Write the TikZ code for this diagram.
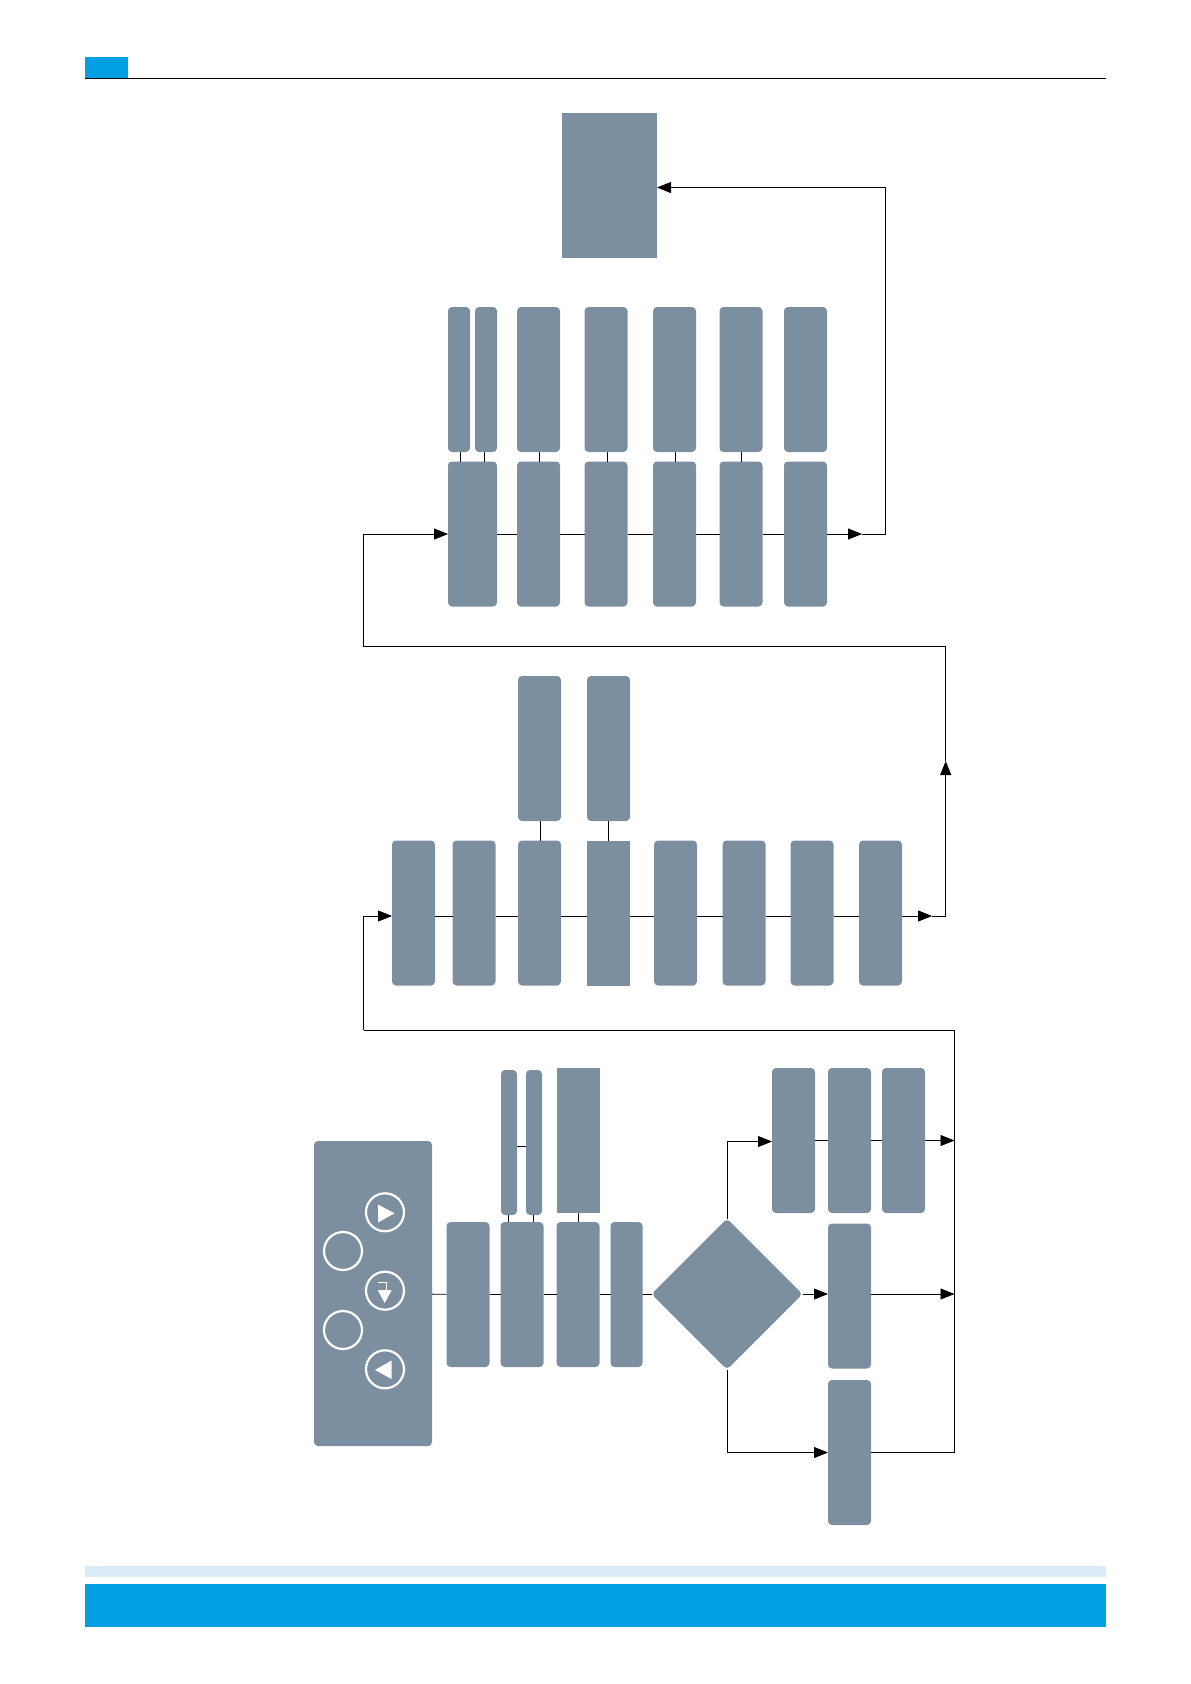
\documentclass[tikz,border=0pt]{standalone}
\usetikzlibrary{arrows.meta,shapes.geometric}
\definecolor{slate}{HTML}{7C8FA0}
\definecolor{headblue}{HTML}{009FE3}
\definecolor{stripblue}{HTML}{D9ECF8}
\tikzset{
	block/.style={fill=slate, inner sep=0pt, outer sep=0pt, rounded corners=4pt, minimum width=43pt, minimum height=145pt},
	flatblock/.style={block, rounded corners=0pt},
	slim/.style={block, minimum width=22pt},
	sliver/.style={block, minimum width=16pt},
	button/.style={circle, draw=white, line width=2.2pt, inner sep=0pt, minimum size=38pt},
	band/.style={inner sep=0pt, outer sep=0pt},
	link/.style={draw=black, line width=0.8pt}
}
\begin{document}
\begin{tikzpicture}[x=1pt, y=-1pt, >={Triangle[length=14pt, width=11pt]}]
	\useasboundingbox (0, 0) rectangle (1191, 1684);
	% page furniture
	\node[band, fill=headblue, minimum width=43pt, minimum height=21pt] (tab) at (106.5, 67.5) {};
	\coordinate (ruleend) at (1106, 78);
	\draw[link] (tab.south west) -- (tab.south west -| ruleend);
	\node[band, fill=stripblue, minimum width=1021pt, minimum height=11pt] (strip) at (595.5, 1571.5) {};
	\node[band, fill=headblue, minimum width=1021pt, minimum height=43pt] (bar) at (595.5, 1605.5) {};
	% top block
	\node[flatblock, minimum width=95pt] (finish) at (609.5, 185.5) {};
	% upper row
	\node[slim] (ua) at (459, 379.5) {};
	\node[slim] (ub) at (486, 379.5) {};
	\node[block] (uc) at (538.5, 379.5) {};
	\node[block] (ud) at (606, 379.5) {};
	\node[block] (ue) at (674.5, 379.5) {};
	\node[block] (uf) at (741, 379.5) {};
	\node[block] (ug) at (805.5, 379.5) {};
	\node[block, minimum width=49pt] (la) at (472.5, 534) {};
	\node[block] (lc) at (538.5, 534) {};
	\node[block] (ld) at (606, 534) {};
	\node[block] (le) at (674.5, 534) {};
	\node[block] (lf) at (741, 534) {};
	\node[block] (lg) at (805.5, 534) {};
	\foreach \a/\b in {la/lc, lc/ld, ld/le, le/lf, lf/lg}
		\draw[link] (\a) -- (\b);
	\foreach \a/\b/\c in {ua/la/460, ub/la/484, uc/lc/539.5, ud/ld/607, ue/le/675.5, uf/lf/741.5}
		\draw[link] (\a.south -| \c, 0) -- (\b.north -| \c, 0);
	\coordinate (uppermark) at (862, 534);
	\coordinate (upperturn) at (885.5, 534);
	\draw[link, ->] (lg) -- (uppermark);
	\draw[link] (uppermark) -- (upperturn);
	\draw[link, ->] (upperturn) |- (finish.east |- 0, 187.5);
	% middle row
	\coordinate (midline) at (0, 916);
	\node[block] (mc) at (539.5, 748.5) {};
	\node[block] (md) at (608.5, 748.5) {};
	\node[block] (na) at (413.5, 913) {};
	\node[block] (nb) at (474, 913) {};
	\node[block] (nc) at (539.5, 913) {};
	\node[flatblock] (nd) at (608.5, 913) {};
	\node[block] (ne) at (675.5, 913) {};
	\node[block] (nf) at (744, 913) {};
	\node[block] (ng) at (812, 913) {};
	\node[block] (nh) at (880.5, 913) {};
	\foreach \a/\b in {na/nb, nb/nc, nc/nd, nd/ne, ne/nf, nf/ng, ng/nh}
		\draw[link] (\a.east |- midline) -- (\b.west |- midline);
	\draw[link] (mc.south -| 540.5, 0) -- (nc.north -| 540.5, 0);
	\draw[link] (md) -- (nd);
	\coordinate (midmark) at (932, 916);
	\coordinate (midturn) at (945.7, 916);
	\coordinate (midrise) at (945.7, 761);
	\coordinate (midtop) at (945.7, 646.5);
	\coordinate (midleft) at (363.5, 646.5);
	\draw[link, ->] (nh.east |- midline) -- (midmark);
	\draw[link] (midmark) -- (midturn);
	\draw[link, ->] (midturn) -- (midrise);
	\draw[link] (midrise) -- (midtop) -- (midleft);
	\draw[link, ->] (midleft) |- (la);
	% bottom row
	\node[block, minimum width=118pt, minimum height=305pt] (panel) at (373, 1293.5) {};
	\node[button] (btna) at (385, 1212.3) {};
	\node[button] (btnb) at (343, 1251) {};
	\node[button] (btnc) at (385, 1290.7) {};
	\node[button] (btnd) at (343, 1330) {};
	\node[button] (btne) at (385, 1369.3) {};
	\fill[white] (378, 1204.5) -- (378, 1222.5) -- (394.5, 1213.3) -- cycle;
	\fill[white] (391.5, 1360.5) -- (391.5, 1379) -- (375, 1370) -- cycle;
	\fill[white] (377.7, 1290) -- (391.7, 1290) -- (384.7, 1303) -- cycle;
	\draw[white, line width=1pt] (378.3, 1282.7) -- (386, 1282.7) -- (386, 1291);
	\node[block] (pa) at (468, 1294.5) {};
	\node[block] (pb) at (522, 1294.5) {};
	\node[block] (pc) at (578, 1294.5) {};
	\node[block, minimum width=32pt] (pd) at (626.5, 1294.5) {};
	\node[sliver] (qa) at (509, 1142.5) {};
	\node[sliver] (qb) at (534, 1142.5) {};
	\node[flatblock] (qc) at (578, 1140.5) {};
	\node[block, diamond, aspect=1, minimum width=151pt, minimum height=151pt] (choice) at (727, 1294) {};
	\foreach \a/\b in {panel/pa, pa/pb, pb/pc, pc/pd, pd/choice}
		\draw[link] (\a) -- (\b);
	\draw[link] (qa.east |- 0, 1146) -- (qb.west |- 0, 1146);
	\foreach \a/\b/\c in {qa/pb/508, qb/pb/533, qc/pc/578.5}
		\draw[link] (\a.south -| \c, 0) -- (\b.north -| \c, 0);
	\node[block] (sa) at (793.5, 1140.5) {};
	\node[block] (sb) at (849.5, 1140.5) {};
	\node[block] (sc) at (903.5, 1140.5) {};
	\node[block] (ta) at (849.5, 1296) {};
	\node[block] (ra) at (849.5, 1452.5) {};
	\coordinate (bus) at (954.5, 1030);
	\coordinate (busleft) at (363.5, 1030);
	\draw[link] (sa) -- (sb);
	\draw[link] (sb) -- (sc);
	\draw[link, ->] (choice.north) |- (sa.west |- 0, 1141.5);
	\draw[link, ->] (choice.east) -- (choice.east -| ta.west);
	\draw[link, ->] (choice.south) |- (ra.west);
	\draw[link, ->] (sc.east) -- (sc.east -| bus);
	\draw[link, ->] (ta.east |- choice) -- (choice -| bus);
	\draw[link] (ra.east) -| (bus) -- (busleft);
	\draw[link, ->] (busleft) |- (na.west |- midline);
\end{tikzpicture}
\end{document}
